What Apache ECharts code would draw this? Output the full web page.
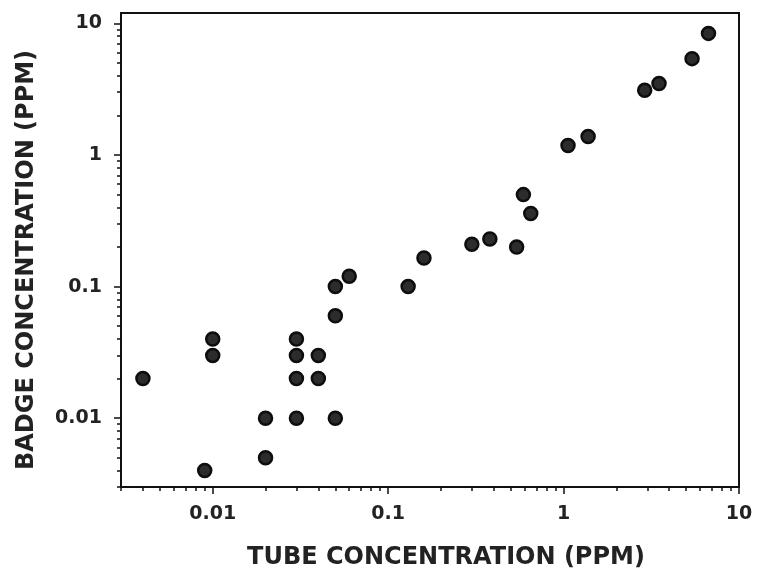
<!DOCTYPE html>
<html>
<head>
<meta charset="utf-8">
<title>Badge vs tube concentration</title>
<script src="https://cdn.jsdelivr.net/npm/echarts@6/dist/echarts.min.js"></script>
<style>
  html, body { margin: 0; padding: 0; background: #fff; }
  #chart { width: 757px; height: 575px; }
</style>
</head>
<body>
<div id="chart"></div>
<script>
// tube (x) vs badge (y) concentration, ppm
const tubeValues = [0.004, 0.01, 0.01, 0.009, 0.02, 0.02, 0.03, 0.03, 0.03, 0.03,
  0.04, 0.04, 0.05, 0.05, 0.05, 0.06, 0.13, 0.16, 0.3, 0.38,
  0.54, 0.59, 0.65, 1.06, 1.38, 2.9, 3.5, 5.4, 6.7]
const badgeValues = [0.02, 0.04, 0.03, 0.004, 0.01, 0.005, 0.04, 0.03, 0.02, 0.01,
  0.03, 0.02, 0.1, 0.06, 0.01, 0.12, 0.1, 0.165, 0.21, 0.23,
  0.2, 0.5, 0.36, 1.18, 1.38, 3.1, 3.5, 5.4, 8.4]

const majorTicks = [0.01, 0.1, 1, 10]
const majorLabels = ['0.01', '0.1', '1', '10']

// 2..9 inside each decade, for the short ticks
function minorTicks (lo, hi) {
  let out = []
  for (let d = 0.001; d < hi; d *= 10) {
    for (let k = 2; k <= 9; k++) {
      let v = +(k * d).toPrecision(3)
      if (v >= lo && v <= hi) out.push(v)
    }
  }
  return out
}

const fontFamily = 'DejaVu Sans'
const labelFmt = v => {
  let i = majorTicks.findIndex(t => Math.abs(t - v) / t < 1e-6)
  return i >= 0 ? majorLabels[i] : ''
}

function mainAxis (min, max, extra) {
  return Object.assign({
    type: 'log',
    logBase: 10,
    min: min,
    max: max,
    splitLine: { show: false },
    axisLine: { show: true, lineStyle: { color: '#111', width: 2 } },
    axisTick: { show: true, inside: false, length: 7, customValues: majorTicks,
      lineStyle: { color: '#111', width: 1.5 } },
    axisLabel: { show: true, customValues: majorTicks, formatter: labelFmt, margin: 18,
      color: '#222', fontFamily: fontFamily, fontWeight: 'bold', fontSize: 19 },
    nameLocation: 'middle'
  }, extra)
}

function minorAxis (min, max, position) {
  return {
    type: 'log',
    logBase: 10,
    min: min,
    max: max,
    position: position,
    splitLine: { show: false },
    axisLine: { show: false },
    axisLabel: { show: false },
    axisTick: { show: true, inside: false, length: 4, customValues: minorTicks(min, max),
      lineStyle: { color: '#111', width: 1.5 } }
  }
}

const xMin = 0.003, xMax = 10
const yMin = 0.003, yMax = 12

let chart = echarts.init(document.getElementById('chart'))
chart.setOption({
  backgroundColor: '#fff',
  animation: false,
  grid: {
    left: 121, right: 18, top: 13, bottom: 87,
    show: true, borderColor: '#111', borderWidth: 2, backgroundColor: 'transparent'
  },
  xAxis: [
    mainAxis(xMin, xMax, {
      position: 'bottom',
      name: 'TUBE CONCENTRATION (PPM)',
      nameGap: 59,
      nameTextStyle: { color: '#222', fontFamily: fontFamily, fontWeight: 'bold', fontSize: 24,
        padding: [0, 0, 0, 32] }
    }),
    minorAxis(xMin, xMax, 'bottom')
  ],
  yAxis: [
    mainAxis(yMin, yMax, {
      position: 'left',
      name: 'BADGE CONCENTRATION (PPM)',
      nameGap: 82,
      axisLabel: { show: true, customValues: majorTicks, formatter: labelFmt, margin: 19,
        color: '#222', fontFamily: fontFamily, fontWeight: 'bold', fontSize: 19 },
      nameTextStyle: { color: '#222', fontFamily: fontFamily, fontWeight: 'bold', fontSize: 24,
        padding: [0, 20, 0, 0] }
    }),
    minorAxis(yMin, yMax, 'left')
  ],
  series: [{
    type: 'scatter',
    xAxisIndex: 0,
    yAxisIndex: 0,
    symbol: 'circle',
    symbolSize: 13,
    data: tubeValues.map((x, i) => [x, badgeValues[i]]),
    itemStyle: { color: '#2c2c2c', borderColor: '#0d0d0d', borderWidth: 2.5, opacity: 1 }
  }]
})
</script>
</body>
</html>
